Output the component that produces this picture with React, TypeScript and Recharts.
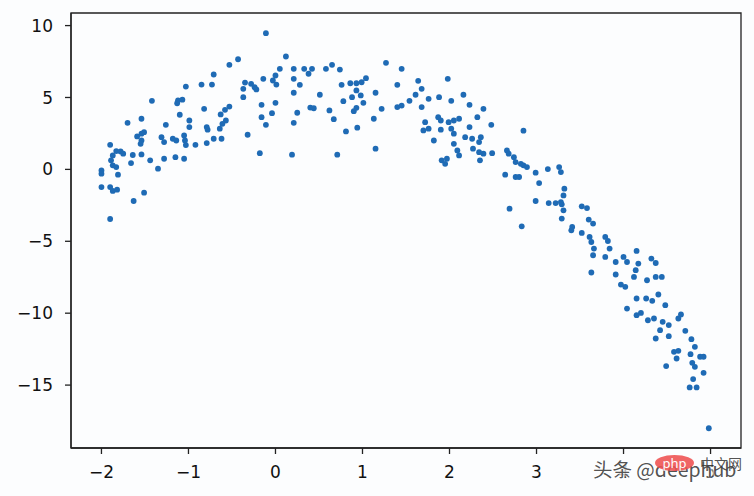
import React from "react";
import { ScatterChart, Scatter, XAxis, YAxis, ReferenceArea } from "recharts";

const xValues: number[] = [
  -0.11, 0.12, -0.43, -0.53, 0.05, 0.0, -0.03, 0.01, -0.14, -0.71,
  -0.85, -0.73, -1.03, -0.35, -0.28, -0.24, -0.22, -0.37, -0.37, -1.42,
  -1.12, -1.07, -1.13, -0.16, 0.0, -0.82, -0.04, -0.16, -0.11, -0.53,
  -0.58, -0.63, -0.57, -0.61, -0.64, -1.1, -1.54, -1.7, -1.26, -0.99,
  -0.99, -0.79, -0.78, -0.32, -0.71, -0.62, -0.79, -0.92, -1.05, -1.04,
  -1.03, -1.18, -1.14, -1.31, -1.28, -1.59, -1.54, -1.51, -1.54, -1.55,
  -1.9, -1.83, -1.78, -1.75, -1.87, -1.89, -1.87, -1.83, -1.64, -1.54,
  -1.66, -1.44, -1.28, -1.15, -1.05, -1.35, -2.0, -2.0, -1.81, -2.0,
  -1.9, -1.87, -1.82, -1.51, -1.63, -1.9, -0.18,
  0.21, 0.21, 0.28, 0.21, 0.25, 0.21, 0.19, 0.33, 0.42, 0.38,
  0.51, 0.4, 0.44, 0.62, 0.67, 0.58, 0.65, 0.74, 0.76, 0.78,
  0.81, 0.71, 0.86, 0.93, 0.99, 1.04, 0.93, 0.88, 0.98, 1.01,
  0.93, 0.9, 0.94, 1.15, 1.22, 1.13, 1.15, 1.27, 1.45, 1.4,
  1.64, 1.68, 1.61, 1.54, 1.4, 1.45, 1.68, 1.76, 1.88, 1.98,
  2.02, 2.16, 2.23, 2.39, 2.32, 2.23, 1.87, 1.9, 1.72, 1.7,
  1.76, 1.9, 1.99, 2.05, 2.11, 2.02, 2.05, 1.82, 2.18, 2.26,
  2.36, 2.34, 2.05, 2.09, 2.11, 2.27, 2.34, 2.39, 2.35, 1.91,
  1.95, 1.97,
  2.48, 2.85, 2.49, 2.66, 2.68, 2.74, 2.76, 2.82, 2.85, 2.89,
  2.64, 2.76, 2.8, 2.99, 3.13, 3.26, 3.28, 3.03, 2.99, 2.69,
  2.83, 3.14, 3.22, 3.28, 3.32, 3.31, 3.31, 3.29, 3.29, 3.52,
  3.58, 3.41, 3.4, 3.52, 3.6, 3.65, 3.61, 3.63, 3.66, 3.65,
  3.79, 3.82, 3.84, 3.79, 3.63, 3.91, 4.0, 4.04, 4.15, 4.17,
  4.14, 4.12, 4.32, 4.37, 3.91, 3.97, 4.02, 4.27, 4.37, 4.44,
  4.4, 4.15, 4.26, 4.33, 4.48, 4.04, 4.15, 4.2, 4.28, 4.35,
  4.45, 4.52, 4.66, 4.63, 4.42, 4.52, 4.37, 4.71, 4.78, 4.82,
  4.58, 4.63, 4.61, 4.77, 4.88, 4.92, 4.79, 4.82, 4.49, 4.92,
  4.8, 4.76, 4.84, 4.98,
];

const yValues: number[] = [
  9.47, 7.85, 7.66, 7.27, 6.99, 6.53, 6.18, 5.9, 6.3, 6.6,
  5.9, 5.9, 5.76, 6.04, 5.95, 5.72, 5.56, 5.6, 5.02, 4.77,
  4.8, 4.85, 4.6, 4.49, 4.63, 4.21, 3.91, 3.63, 3.1, 4.37,
  4.14, 3.82, 3.4, 3.17, 2.83, 3.8, 3.52, 3.24, 3.1, 3.4,
  2.94, 2.94, 2.76, 2.41, 2.13, 2.13, 1.83, 1.71, 2.36, 2.01,
  1.69, 2.13, 2.01, 2.24, 1.9, 2.29, 2.48, 2.59, 2.01, 1.78,
  1.71, 1.27, 1.25, 1.09, 0.97, 0.63, 0.28, 0.16, 1.0, 1.04,
  0.44, 0.63, 0.74, 0.85, 0.74, 0.05, -0.07, -0.3, -0.37, -1.23,
  -1.23, -1.5, -1.41, -1.62, -2.2, -3.45, 1.13,
  6.99, 6.3, 5.88, 5.33, 3.94, 3.24, 1.02, 6.99, 6.99, 6.65,
  5.19, 4.3, 4.25, 4.1, 3.49, 6.99, 7.27, 6.94, 5.88, 4.74,
  2.64, 1.02, 5.99, 5.99, 6.06, 6.34, 5.49, 5.02, 5.14, 4.63,
  4.28, 4.05, 2.9, 5.33, 4.21, 3.52, 1.44, 7.41, 6.99, 5.88,
  6.16, 5.6, 5.19, 4.77, 4.33, 4.44, 4.33, 4.91, 5.02, 6.3,
  4.77, 5.19, 4.49, 4.21, 3.63, 2.94, 3.63, 3.4, 3.28, 2.71,
  2.83, 2.76, 3.28, 3.4, 3.52, 2.83, 2.48, 2.01, 2.24, 2.13,
  2.24, 1.9, 1.78, 1.32, 0.97, 1.44, 1.2, 1.09, 0.63, 0.63,
  0.39, 0.74,
  3.1, 2.69, 1.13, 1.32, 1.09, 0.85, 0.51, 0.39, 0.28, 0.16,
  -0.37, -0.53, -0.53, -0.23, 0.02, 0.16, -0.19, -0.95, -2.2, -2.73,
  -3.96, -2.34, -2.34, -2.27, -1.34, -1.81, -2.85, -3.42, -2.43, -2.57,
  -2.69, -4.0, -4.24, -4.42, -3.49, -3.77, -4.7, -5.05, -5.51, -5.97,
  -4.7, -4.98, -5.51, -6.09, -7.17, -6.44, -6.09, -6.44, -5.67, -6.55,
  -7.01, -7.48, -6.2, -6.51, -7.31, -8.01, -8.17, -7.71, -7.48, -7.48,
  -8.7, -8.98, -8.98, -9.14, -9.44, -9.68, -10.14, -9.98, -10.49, -10.37,
  -10.6, -10.83, -10.09, -10.37, -11.18, -11.6, -11.76, -11.23, -11.81, -12.34,
  -12.69, -12.62, -13.15, -12.85, -13.03, -13.03, -13.45, -13.73, -13.68, -14.15,
  -14.58, -15.16, -15.16, -18.0,
];

const xTicks = [-2, -1, 0, 1, 2, 3, 4, 5];
const yTicks = [-15, -10, -5, 0, 5, 10];
const xDomain: [number, number] = [-2.35, 5.35];
const yDomain: [number, number] = [-19.375, 10.875];

const points = xValues.map((x, i) => ({ x, y: yValues[i] }));

const fmt = (v: number) => (v < 0 ? `\u2212${Math.abs(v)}` : `${v}`);

const Dot = (props: any) => (
  <circle cx={props.cx} cy={props.cy} r={2.9} fill="#1f6bb5" />
);

const tickStyle = { fill: "#111", fontSize: 17, fontFamily: "DejaVu Sans" };

export default function App() {
  return (
    <div
      style={{
        position: "absolute",
        left: 0,
        top: 0,
        width: 754,
        height: 496,
        background: "#fcfdfe",
        overflow: "hidden",
      }}
    >
      <ScatterChart
        width={754}
        height={496}
        margin={{ top: 13, right: 13, bottom: 0, left: 0 }}
      >
        <XAxis
          type="number"
          dataKey="x"
          domain={xDomain}
          ticks={xTicks}
          allowDataOverflow
          height={48}
          tickSize={6}
          tickMargin={12}
          tickFormatter={fmt}
          tick={tickStyle}
          stroke="#222"
          strokeWidth={1.3}
        />
        <YAxis
          type="number"
          dataKey="y"
          domain={yDomain}
          ticks={yTicks}
          allowDataOverflow
          width={71}
          tickSize={6}
          tickMargin={12}
          tickFormatter={fmt}
          tick={tickStyle}
          stroke="#222"
          strokeWidth={1.3}
        />
        <ReferenceArea
          x1={xDomain[0]}
          x2={xDomain[1]}
          y1={yDomain[0]}
          y2={yDomain[1]}
          fill="none"
          stroke="#222"
          strokeWidth={1.3}
          ifOverflow="visible"
        />
        <Scatter data={points} shape={Dot} isAnimationActive={false} />
      </ScatterChart>
      <div
        style={{
          position: "absolute",
          left: 593,
          top: 457,
          fontFamily: "Noto Sans CJK SC",
          fontSize: 19.5,
          color: "rgba(60,60,60,0.9)",
          whiteSpace: "nowrap",
          lineHeight: "24px",
          textShadow: "0 0 3px #fff, 0 0 3px #fff, 0 0 2px #fff",
        }}
      >
        头条 @deephub
      </div>
      <div
        style={{
          position: "absolute",
          left: 655,
          top: 455,
          width: 39,
          height: 16,
          borderRadius: "50%",
          background: "rgba(238,80,80,0.88)",
          color: "#fff",
          fontFamily: "Noto Sans",
          fontSize: 13,
          lineHeight: "16px",
          textAlign: "center",
        }}
      >
        php
      </div>
      <div
        style={{
          position: "absolute",
          left: 700,
          top: 454,
          fontFamily: "Noto Sans CJK SC",
          fontSize: 14,
          color: "rgba(60,60,60,0.9)",
          lineHeight: "18px",
          whiteSpace: "nowrap",
        }}
      >
        中文网
      </div>
    </div>
  );
}
